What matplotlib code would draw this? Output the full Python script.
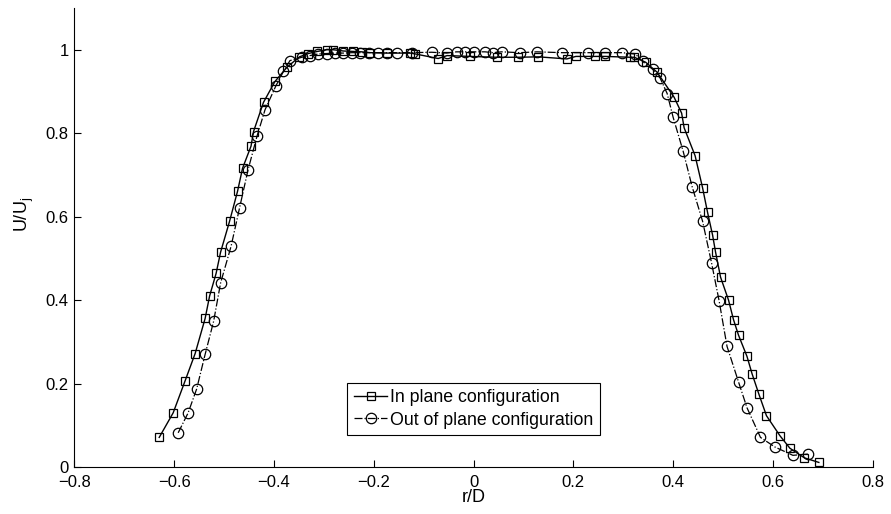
import matplotlib
matplotlib.use('Agg')
import matplotlib.pyplot as plt

plt.rcParams['font.family'] = ['Liberation Sans', 'DejaVu Sans']
plt.rcParams['mathtext.fontset'] = 'custom'
plt.rcParams['mathtext.rm'] = 'Liberation Sans'
plt.rcParams['mathtext.it'] = 'Liberation Sans'

# in plane configuration (squares)
r_in = [-0.630, -0.602, -0.578, -0.558, -0.538, -0.529, -0.516, -0.507, -0.489, -0.473,
        -0.463, -0.446, -0.441, -0.421, -0.398, -0.374, -0.349, -0.331, -0.313, -0.294,
        -0.281, -0.261, -0.242, -0.224, -0.207, -0.174, -0.127, -0.117, -0.071, -0.053,
        -0.007, 0.046, 0.090, 0.130, 0.187, 0.205, 0.243, 0.264, 0.314, 0.322,
        0.345, 0.368, 0.402, 0.417, 0.422, 0.444, 0.459, 0.469, 0.479, 0.485,
        0.495, 0.511, 0.521, 0.531, 0.548, 0.558, 0.572, 0.587, 0.614, 0.634,
        0.663, 0.692]
u_in = [0.071, 0.130, 0.207, 0.272, 0.356, 0.410, 0.464, 0.515, 0.589, 0.661,
        0.716, 0.769, 0.804, 0.874, 0.924, 0.958, 0.983, 0.991, 0.996, 1.000,
        1.000, 0.997, 0.996, 0.995, 0.993, 0.992, 0.992, 0.990, 0.979, 0.986,
        0.984, 0.982, 0.982, 0.983, 0.978, 0.984, 0.984, 0.984, 0.982, 0.982,
        0.970, 0.946, 0.886, 0.848, 0.813, 0.746, 0.669, 0.610, 0.556, 0.515,
        0.455, 0.400, 0.353, 0.316, 0.265, 0.224, 0.174, 0.123, 0.075, 0.045,
        0.022, 0.011]

# out of plane configuration (circles)
r_out = [-0.592, -0.572, -0.555, -0.538, -0.521, -0.507, -0.486, -0.469, -0.452, -0.434,
         -0.418, -0.396, -0.381, -0.368, -0.344, -0.328, -0.311, -0.294, -0.278, -0.261,
         -0.244, -0.228, -0.209, -0.191, -0.174, -0.154, -0.124, -0.084, -0.054, -0.034,
         -0.017, 0.000, 0.023, 0.039, 0.056, 0.093, 0.127, 0.177, 0.230, 0.264,
         0.297, 0.324, 0.339, 0.359, 0.374, 0.388, 0.400, 0.420, 0.438, 0.459,
         0.477, 0.492, 0.508, 0.531, 0.548, 0.575, 0.604, 0.640, 0.670]
u_out = [0.082, 0.130, 0.187, 0.270, 0.349, 0.441, 0.529, 0.621, 0.712, 0.793,
         0.856, 0.914, 0.948, 0.974, 0.982, 0.986, 0.990, 0.991, 0.992, 0.992,
         0.993, 0.993, 0.993, 0.993, 0.993, 0.993, 0.993, 0.994, 0.992, 0.995,
         0.995, 0.995, 0.995, 0.993, 0.995, 0.993, 0.995, 0.993, 0.993, 0.993,
         0.993, 0.990, 0.972, 0.953, 0.932, 0.895, 0.838, 0.757, 0.672, 0.589,
         0.489, 0.399, 0.289, 0.204, 0.142, 0.071, 0.048, 0.028, 0.031]

xticks = [-0.8, -0.6, -0.4, -0.2, 0, 0.2, 0.4, 0.6, 0.8]
yticks = [0, 0.2, 0.4, 0.6, 0.8, 1]

fig = plt.figure(figsize=(8.91, 5.14), dpi=100)
ax = fig.add_axes([0.0835, 0.0914, 0.896, 0.893])

ax.plot(r_in, u_in, '-', color='black', lw=1.0, marker='s', ms=5.5,
        mfc='none', mec='black', mew=0.9, label='In plane configuration')
ax.plot(r_out, u_out, '-.', color='black', lw=0.9, marker='o', ms=7.5,
        mfc='none', mec='black', mew=0.9, label='Out of plane configuration')

ax.set_xlim(-0.8, 0.8)
ax.set_ylim(0, 1.1)
ax.set_xticks(xticks)
ax.set_xticklabels(['\u22120.8', '\u22120.6', '\u22120.4', '\u22120.2', '0', '0.2', '0.4', '0.6', '0.8'])
ax.set_yticks(yticks)
ax.set_yticklabels(['0', '0.2', '0.4', '0.6', '0.8', '1'])
ax.tick_params(direction='in', length=5, width=0.8, labelsize=12)
ax.tick_params(axis='x', pad=6)
ax.tick_params(axis='y', pad=4)
ax.spines['top'].set_visible(False)
ax.spines['right'].set_visible(False)

ax.set_xlabel('r/D', fontsize=13, labelpad=-1)
ax.set_ylabel(r'U/U$_\mathrm{j}$', fontsize=13)
ax.yaxis.set_label_coords(-0.048, 0.55)

leg = ax.legend(loc='lower left', bbox_to_anchor=(0.342, 0.070), borderaxespad=0,
                fancybox=False, edgecolor='black', framealpha=1, fontsize=12.8,
                handlelength=1.9, handletextpad=0.15, borderpad=0.35, labelspacing=0.3)
leg.get_frame().set_linewidth(0.8)

fig.savefig('out.png', dpi=100)
